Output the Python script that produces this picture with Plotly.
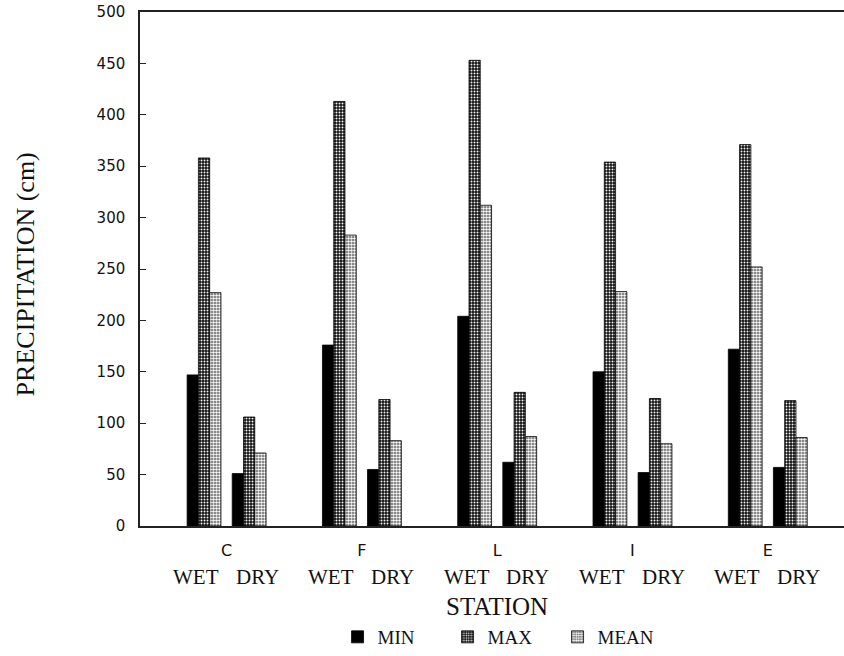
import plotly.graph_objects as go

stations = ["C", "F", "L", "I", "E"]
seasons = ["WET", "DRY"]
series_names = ["MIN", "MAX", "MEAN"]

# values per station, WET then DRY
min_vals = [147, 51, 176, 55, 204, 62, 150, 52, 172, 57]
max_vals = [358, 106, 413, 123, 453, 130, 354, 124, 371, 122]
mean_vals = [227, 71, 283, 83, 312, 87, 228, 80, 252, 86]

y_ticks = [0, 50, 100, 150, 200, 250, 300, 350, 400, 450, 500]

# positions: stations spaced 3 units apart, seasons 1 unit apart
xpos = [3 * i + j for i in range(len(stations)) for j in range(len(seasons))]

styles = {
    "MIN": dict(color="#000000", pattern=None),
    "MAX": dict(color="#1a1a1a", pattern=dict(shape=".", bgcolor="#111111", fgcolor="#f0f0f0",
                                               size=3, solidity=0.35, fillmode="replace")),
    "MEAN": dict(color="#a0a0a0", pattern=dict(shape=".", bgcolor="#5c5c5c", fgcolor="#ffffff",
                                                size=3, solidity=0.55, fillmode="replace")),
}

fig = go.Figure()
for name, vals in zip(series_names, [min_vals, max_vals, mean_vals]):
    st = styles[name]
    marker = dict(color=st["color"], line=dict(color="#000000", width=0.8))
    if st["pattern"]:
        marker["pattern"] = st["pattern"]
    fig.add_trace(go.Bar(x=xpos, y=vals, name=name, marker=marker))

serif = "Liberation Serif, Times New Roman, serif"
sans = "DejaVu Sans, Arial, sans-serif"

annotations = []
for i in range(len(stations)):
    for j, s in enumerate(seasons):
        annotations.append(dict(
            x=3 * i + j, y=0, xref="x", yref="paper", text=s, showarrow=False,
            xanchor="center", yanchor="middle", yshift=-51, xshift=(-8 if j == 0 else 8),
            font=dict(family=serif, size=21, color="#111"),
        ))
annotations.append(dict(
    x=0.507, y=0, xref="paper", yref="paper", text="STATION", showarrow=False,
    xanchor="center", yanchor="middle", yshift=-80,
    font=dict(family=serif, size=25, color="#111"),
))
annotations.append(dict(
    x=-0.163, y=0.49, xref="paper", yref="paper", text="PRECIPITATION (cm)", showarrow=False,
    xanchor="center", yanchor="middle", textangle=-90,
    font=dict(family=serif, size=26, color="#111"),
))

fig.update_layout(
    width=844, height=656,
    margin=dict(l=140, r=0, t=12, b=130),
    paper_bgcolor="white", plot_bgcolor="white",
    barmode="group", bargap=0.25, bargroupgap=0,
    showlegend=True,
    legend=dict(orientation="h", x=0.515, xanchor="center", y=-0.216, yanchor="middle",
                font=dict(family=serif, size=19, color="#111"), itemwidth=30,
                entrywidth=65, entrywidthmode="pixels",
                traceorder="normal"),
    annotations=annotations,
    xaxis=dict(
        range=[-1.42, 14.19], showgrid=False, zeroline=False,
        showline=True, linecolor="#222", linewidth=1.5, mirror=True,
        tickvals=[3 * i + 0.5 for i in range(len(stations))], ticktext=stations,
        ticks="", ticklabelstandoff=9,
        tickfont=dict(family=sans, size=16, color="#111"),
    ),
    yaxis=dict(
        range=[0, 500], showgrid=False, zeroline=False,
        showline=True, linecolor="#222", linewidth=1.5,
        tickvals=y_ticks, ticks="inside", ticklen=6, tickcolor="#222",
        ticklabelstandoff=10,
        tickfont=dict(family=sans, size=15, color="#111"),
    ),
)

fig.write_html("out.html")
